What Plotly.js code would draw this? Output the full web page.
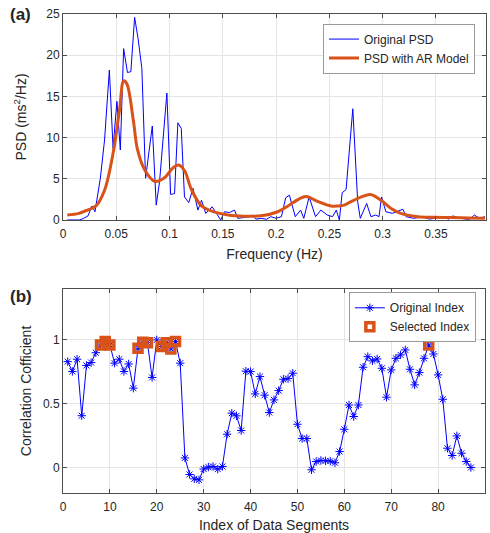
<!DOCTYPE html>
<html>
<head>
<meta charset="utf-8">
<script src="https://cdn.plot.ly/plotly-3.0.1.min.js"></script>
<style>html,body{margin:0;padding:0;background:#fff;}#chart{width:490px;height:533px;}</style>
</head>
<body>
<div id="chart"></div>
<script>
// ---- Panel (a): PSD ----
const psdFreq = [0.0039,0.0078,0.0117,0.0156,0.0195,0.0235,0.0272,0.030,0.035,0.039,0.0435,0.047,0.0506,0.0538,0.0569,0.0605,0.0637,0.0672,0.0705,0.074,0.0775,0.0838,0.0875,0.0906,0.0975,0.101,0.1047,0.1078,0.111,0.114,0.118,0.122,0.1266,0.130,0.134,0.140,0.145,0.148,0.1516,0.1563,0.161,0.164,0.170,0.175,0.178,0.181,0.186,0.191,0.195,0.200,0.205,0.209,0.2125,0.218,0.223,0.226,0.231,0.235,0.237,0.242,0.248,0.253,0.2565,0.2594,0.262,0.2657,0.272,0.2766,0.279,0.285,0.289,0.2935,0.2966,0.299,0.303,0.309,0.314,0.319,0.322,0.329,0.334,0.339,0.344,0.348,0.353,0.358,0.362,0.366,0.370,0.374,0.378,0.382,0.386,0.391,0.396];
const psdValues = [0,0,0,0,0.2,0.5,1.7,1.0,5.0,9.7,18.2,8.7,14.4,8.5,20.8,17.9,18.0,24.6,22.0,18.4,5.06,11.4,1.8,4.6,15.4,3.1,3.2,11.8,11.1,2.8,2.1,3.85,1.2,2.4,0.8,1.6,0.6,0,1.0,0.9,1.2,0.2,0.3,0.4,0.6,0.1,0.2,0.08,0.4,0.2,0.4,2.7,3.0,0.4,1.2,0.2,2.8,1.0,0.4,1.2,0.6,0.4,1.2,0,3.3,3.7,13.5,2.2,0.2,2.0,0.4,0.6,0.4,2.8,1.0,0.8,1.1,1.3,0.4,0.2,0.3,0.3,0.1,0.2,0.3,0.3,0.1,0.5,0.3,0.2,0.1,0.1,0.6,0.2,0.4];
const arFreq = [0.004,0.015,0.023,0.031,0.039,0.047,0.053,0.057,0.060,0.066,0.070,0.077,0.086,0.095,0.103,0.1085,0.114,0.1205,0.130,0.139,0.155,0.170,0.186,0.2016,0.210,0.217,0.228,0.239,0.2516,0.258,0.264,0.270,0.280,0.2885,0.2985,0.308,0.317,0.333,0.348,0.365,0.380,0.396];
const arValues = [0.6,0.8,1.2,1.7,3.6,8.1,13.3,16.9,16.5,12.1,8.5,6.0,4.7,5.1,6.3,6.67,6.0,3.7,1.7,1.1,0.6,0.45,0.5,1.0,1.6,2.2,2.85,2.25,1.7,1.7,1.8,2.2,2.8,3.1,2.4,1.4,0.8,0.4,0.33,0.3,0.25,0.2];
const psdXTicks = [0,0.05,0.1,0.15,0.2,0.25,0.3,0.35];
const psdXTickText = ['0','0.05','0.1','0.15','0.2','0.25','0.3','0.35'];
const psdYTicks = [0,5,10,15,20,25];

// ---- Panel (b): correlation ----
const segIndex = [1,2,3,4,5,6,7,8,9,10,11,12,13,14,15,16,17,18,19,20,21,22,23,24,25,26,27,28,29,30,31,32,33,34,35,36,37,38,39,40,41,42,43,44,45,46,47,48,49,50,51,52,53,54,55,56,57,58,59,60,61,62,63,64,65,66,67,68,69,70,71,72,73,74,75,76,77,78,79,80,81,82,83,84,85,86,87];
const corrValues = [0.83,0.753,0.849,0.406,0.80,0.823,0.90,0.961,0.987,0.961,0.818,0.849,0.753,0.812,0.622,0.935,0.982,0.979,0.706,1.0,0.948,0.979,0.93,0.987,0.818,0.075,-0.055,-0.089,-0.097,-0.012,0.003,0.008,-0.013,0.008,0.261,0.426,0.405,0.29,0.755,0.752,0.577,0.713,0.567,0.431,0.53,0.603,0.692,0.697,0.739,0.339,0.227,0.227,-0.018,0.047,0.055,0.052,0.05,0.037,0.125,0.30,0.49,0.40,0.49,0.786,0.869,0.836,0.851,0.778,0.551,0.765,0.856,0.883,0.922,0.77,0.648,0.744,0.856,0.961,0.89,0.726,0.535,0.151,0.094,0.248,0.112,0.047,0.0];
const selectedIndex = [8,9,10,16,17,18,21,22,23,24,78];
const corrXTicks = [0,10,20,30,40,50,60,70,80,90];
const corrYTicks = [0,0.5,1];
const corrYTickText = ['0','0.5','1'];

const selectedValues = selectedIndex.map(i => corrValues[segIndex.indexOf(i)]);

const FONT = 'Liberation Sans, Arial, sans-serif';
const AX = '#4d4d4d';
const GRID = '#e4e4e4';
const TXT = '#262626';

function axisBase(extra) {
  return Object.assign({
    showline: true, mirror: 'ticks', linecolor: AX, linewidth: 1,
    ticks: 'inside', ticklen: 4, tickcolor: AX,
    showgrid: true, gridcolor: GRID, gridwidth: 1,
    zeroline: false, tickfont: {family: FONT, size: 12, color: TXT},
    automargin: false
  }, extra);
}

const traces = [
  {x: psdFreq, y: psdValues, type: 'scatter', mode: 'lines', name: 'Original PSD',
   line: {color: 'rgb(0,0,255)', width: 1}, xaxis: 'x', yaxis: 'y', legend: 'legend'},
  {x: arFreq, y: arValues, type: 'scatter', mode: 'lines', name: 'PSD with AR Model',
   line: {color: '#D95319', width: 3, shape: 'spline', smoothing: 1}, xaxis: 'x', yaxis: 'y', legend: 'legend'},
  {x: segIndex, y: corrValues, type: 'scatter', mode: 'lines+markers', name: 'Original Index',
   line: {color: 'rgb(0,0,255)', width: 1},
   marker: {symbol: 'asterisk-open', size: 7, color: 'rgb(0,0,255)', line: {color: 'rgb(0,0,255)', width: 1}},
   xaxis: 'x2', yaxis: 'y2', legend: 'legend2'},
  {x: selectedIndex, y: selectedValues, type: 'scatter', mode: 'markers', name: 'Selected Index',
   marker: {symbol: 'square-open', size: 8, color: '#D95319', line: {color: '#D95319', width: 3.5}},
   xaxis: 'x2', yaxis: 'y2', legend: 'legend2'}
];

const layout = {
  width: 490, height: 533,
  margin: {l: 63, r: 4, t: 14, b: 40},
  paper_bgcolor: '#fff', plot_bgcolor: '#fff',
  font: {family: FONT, color: TXT},
  showlegend: true,
  xaxis: axisBase({domain: [0, 1], anchor: 'y', range: [0, 0.397],
    tickvals: psdXTicks, ticktext: psdXTickText, ticklabelstandoff: 3,
    title: {text: 'Frequency (Hz)', font: {family: FONT, size: 14, color: TXT}, standoff: 8}}),
  yaxis: axisBase({domain: [0.57, 1], anchor: 'x', range: [0, 25], tickvals: psdYTicks,
    title: {text: 'PSD (ms<sup>2</sup>/Hz)', font: {family: FONT, size: 14, color: TXT}, standoff: 16}}),
  xaxis2: axisBase({domain: [0, 0.9976], anchor: 'y2', range: [0, 90], tickvals: corrXTicks,
    ticklabelstandoff: 3,
    title: {text: 'Index of Data Segments', font: {family: FONT, size: 14, color: TXT}, standoff: 8}}),
  yaxis2: axisBase({domain: [0, 0.426], anchor: 'x2', range: [-0.2, 1.4],
    tickvals: corrYTicks, ticktext: corrYTickText,
    title: {text: 'Correlation Cofficient', font: {family: FONT, size: 14, color: TXT}, standoff: 8}}),
  legend: {x: 0.974, y: 0.98, xanchor: 'right', yanchor: 'top',
    bgcolor: '#fff', bordercolor: '#9a9a9a', borderwidth: 1,
    font: {family: FONT, size: 12, color: TXT}, tracegroupgap: 0},
  legend2: {x: 0.976, y: 0.419, xanchor: 'right', yanchor: 'top',
    bgcolor: '#fff', bordercolor: '#9a9a9a', borderwidth: 1,
    font: {family: FONT, size: 12, color: TXT}, tracegroupgap: 0},
  annotations: [
    {text: '<b>(a)</b>', xref: 'paper', yref: 'paper', x: -0.1, y: 1.0, xanchor: 'center', yanchor: 'middle',
     showarrow: false, font: {family: FONT, size: 17, color: TXT}},
    {text: '<b>(b)</b>', xref: 'paper', yref: 'paper', x: -0.1, y: 0.411, xanchor: 'center', yanchor: 'middle',
     showarrow: false, font: {family: FONT, size: 17, color: TXT}}
  ]
};

Plotly.newPlot('chart', traces, layout, {displayModeBar: false, staticPlot: true});
</script>
</body>
</html>
